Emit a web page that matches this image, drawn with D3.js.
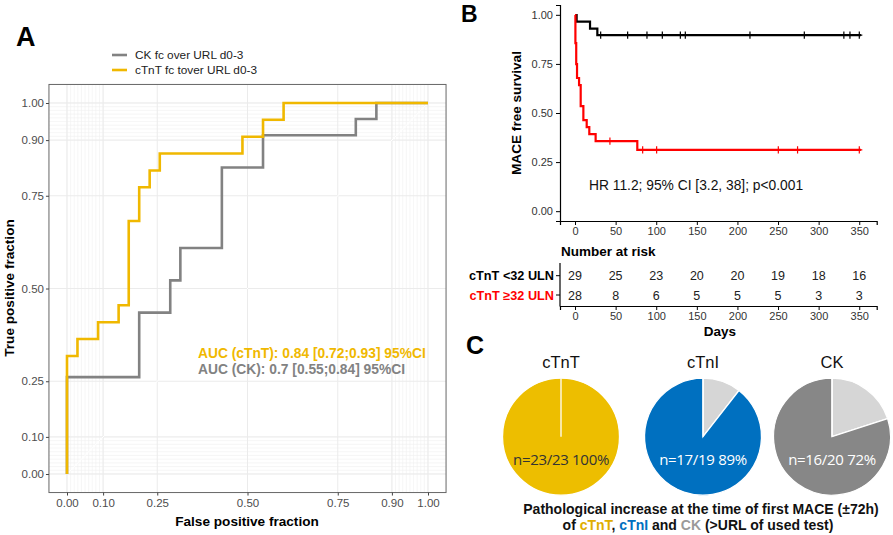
<!DOCTYPE html>
<html lang="en">
<head>
<meta charset="utf-8">
<title>D3</title>
<script src="https://d3js.org/d3.v7.min.js"></script>
<style>
  body { margin: 0; background: #fff; }
  svg text { font-family: "Liberation Sans", Arial, Helvetica, sans-serif; }
</style>
</head>
<body>
<div id="viz"></div>
<script>
// ---------- panel A : ROC curves ----------
const rocNames = ["CK fc over URL d0-3", "cTnT fc tover URL d0-3"];
// each point: the fpr reached after a rise to the given tpr (vertical step first)
const ckFpr  = [0, 0.2, 0.286, 0.314, 0.429, 0.543, 0.8, 0.857, 1];
const ckTpr  = [0, 0.261, 0.435, 0.522, 0.609, 0.826, 0.913, 0.957, 1];
const tntFpr = [0, 0.029, 0.086, 0.143, 0.171, 0.2, 0.229, 0.257, 0.486, 0.543, 0.6, 1];
const tntTpr = [0, 0.318, 0.364, 0.409, 0.455, 0.682, 0.773, 0.818, 0.864, 0.909, 0.955, 1];
const rocBreaks = [0, 0.1, 0.25, 0.5, 0.75, 0.9, 1];
const aucText = ["AUC (cTnT): 0.84 [0.72;0.93] 95%CI", "AUC (CK): 0.7 [0.55;0.84] 95%CI"];

// ---------- panel B : Kaplan-Meier ----------
const kmNames = ["cTnT <32 ULN", "cTnT \u226532 ULN"];
const lowTime  = [0, 2, 18.5, 27.5, 352];
const lowSurv  = [1, 0.966, 0.931, 0.897, 0.897];
const lowCens  = [31.6, 64.8, 88.6, 107.5, 129.7, 135.8, 215.4, 282.3, 331, 338.5, 350];
const highTime = [0, 0.5, 1.5, 2.5, 5, 7, 10.3, 14.4, 17.6, 25.4, 76.7, 352];
const highSurv = [1, 0.857, 0.75, 0.679, 0.643, 0.536, 0.464, 0.429, 0.393, 0.357, 0.313, 0.313];
const highCens = [43, 83.3, 100.5, 250.3, 274, 350];
const riskTimes = [0, 50, 100, 150, 200, 250, 300, 350];
const riskLow   = [29, 25, 23, 20, 20, 19, 18, 16];
const riskHigh  = [28, 8, 6, 5, 5, 5, 3, 3];
const survTicks = [0, 0.25, 0.5, 0.75, 1];
const hrText = "HR 11.2; 95% CI [3.2, 38]; p<0.001";

// ---------- panel C : pies ----------
const pieNames  = ["cTnT", "cTnI", "CK"];
const piePath   = [23, 17, 16];
const pieNormal = [0, 2, 4];
const pieLabels = ["n=23/23 100%", "n=17/19 89%", "n=16/20 72%"];

const yellowLine = "#F0B800", greyLine = "#828282";
const pieColors = ["#EDBE00", "#0070C0", "#878787"];
const pieRest = "#D6D6D6";

const svg = d3.select("#viz").append("svg")
    .attr("width", 893).attr("height", 535);

// ================= A =================
const xA = d3.scaleLinear().domain([0, 1]).range([67, 428]);
const yA = d3.scaleLinear().domain([0, 1]).range([474, 103]);
const minor = d3.range(0, 0.105, 0.01).concat(d3.range(0.9, 1.005, 0.01));

const gA = svg.append("g");
gA.append("text").attr("x", 16).attr("y", 46)
    .attr("font-size", 27).attr("font-weight", "bold").text("A");

// grid
gA.selectAll(".vmin").data(minor).join("line")
    .attr("x1", d => xA(d)).attr("x2", d => xA(d))
    .attr("y1", yA(1.05)).attr("y2", yA(-0.05))
    .attr("stroke", "#f0f0f0").attr("stroke-width", 0.6);
gA.selectAll(".hmin").data(minor).join("line")
    .attr("y1", d => yA(d)).attr("y2", d => yA(d))
    .attr("x1", xA(-0.05)).attr("x2", xA(1.05))
    .attr("stroke", "#f0f0f0").attr("stroke-width", 0.6);
gA.selectAll(".vmaj").data(rocBreaks).join("line")
    .attr("x1", d => xA(d)).attr("x2", d => xA(d))
    .attr("y1", yA(1.05)).attr("y2", yA(-0.05))
    .attr("stroke", "#ebebeb").attr("stroke-width", 1);
gA.selectAll(".hmaj").data(rocBreaks).join("line")
    .attr("y1", d => yA(d)).attr("y2", d => yA(d))
    .attr("x1", xA(-0.05)).attr("x2", xA(1.05))
    .attr("stroke", "#ebebeb").attr("stroke-width", 1);

// chance diagonal
gA.append("line")
    .attr("x1", xA(0)).attr("y1", yA(0)).attr("x2", xA(1)).attr("y2", yA(1))
    .attr("stroke", "#fff").attr("stroke-width", 1);

// curves
const rocLine = d3.line().curve(d3.curveStepBefore)
    .x(d => xA(d[0])).y(d => yA(d[1]));
gA.append("path").datum(d3.zip(ckFpr, ckTpr))
    .attr("fill", "none").attr("stroke", greyLine).attr("stroke-width", 2.6)
    .attr("d", rocLine);
gA.append("path").datum(d3.zip(tntFpr, tntTpr))
    .attr("fill", "none").attr("stroke", yellowLine).attr("stroke-width", 2.6)
    .attr("d", rocLine);

// panel border
gA.append("rect")
    .attr("x", xA(-0.05)).attr("y", yA(1.05))
    .attr("width", xA(1.05) - xA(-0.05)).attr("height", yA(-0.05) - yA(1.05))
    .attr("fill", "none").attr("stroke", "#666").attr("stroke-width", 1);

// axes
const axAL = gA.append("g").attr("transform", `translate(${xA(-0.05)},0)`)
    .call(d3.axisLeft(yA).tickValues(rocBreaks).tickFormat(d3.format(".2f")).tickSize(3).tickPadding(2));
const axAB = gA.append("g").attr("transform", `translate(0,${yA(-0.05)})`)
    .call(d3.axisBottom(xA).tickValues(rocBreaks).tickFormat(d3.format(".2f")).tickSize(3).tickPadding(3));
[axAL, axAB].forEach(a => {
    a.select(".domain").remove();
    a.selectAll("line").attr("stroke", "#444");
    a.selectAll("text").attr("fill", "#4d4d4d").attr("font-size", 11.5);
});

gA.append("text").attr("x", 247).attr("y", 526).attr("text-anchor", "middle")
    .attr("font-size", 13.6).attr("font-weight", "bold").text("False positive fraction");
gA.append("text").attr("transform", "translate(14,288) rotate(-90)")
    .attr("text-anchor", "middle")
    .attr("font-size", 13.6).attr("font-weight", "bold").text("True positive fraction");

// legend
const legColors = [greyLine, yellowLine];
rocNames.forEach((n, i) => {
    gA.append("line").attr("x1", 112).attr("x2", 127)
        .attr("y1", 55 + i * 15).attr("y2", 55 + i * 15)
        .attr("stroke", legColors[i]).attr("stroke-width", 2.6);
    gA.append("text").attr("x", 135).attr("y", 59 + i * 15)
        .attr("font-size", 11.8).attr("fill", "#222").text(n);
});

// AUC notes
[[yellowLine, 0], [greyLine, 1]].forEach(([c, i]) => {
    gA.append("text").attr("x", 198).attr("y", 357.5 + i * 16.5)
        .attr("font-size", 13.8).attr("font-weight", "bold").attr("fill", c)
        .text(aucText[i]);
});

// ================= B =================
const xB = d3.scaleLinear().domain([0, 350]).range([575, 859.3]);
const yB = d3.scaleLinear().domain([0, 1]).range([211.3, 15]);
const gB = svg.append("g");
gB.append("text").attr("x", 461).attr("y", 22)
    .attr("font-size", 23).attr("font-weight", "bold").text("B");

const axBL = gB.append("g").attr("transform", `translate(560,0)`)
    .call(d3.axisLeft(yB.copy().domain([-0.05, 1.05]).range([221, 5]))
        .tickValues(survTicks).tickFormat(d3.format(".2f")).tickSize(4).tickPadding(3));
const axBB = gB.append("g").attr("transform", `translate(0,221)`)
    .call(d3.axisBottom(xB.copy().domain([-18.5, 371.5]).range([560, 876.7]))
        .tickValues(riskTimes).tickSize(4).tickPadding(2));
[axBL, axBB].forEach(a => {
    a.select(".domain").attr("stroke", "#000").attr("stroke-width", 1.2);
    a.selectAll(".tick line").attr("stroke", "#000");
    a.selectAll("text").attr("fill", "#333").attr("font-size", 11);
});

const kmLine = d3.line().curve(d3.curveStepAfter)
    .x(d => xB(d[0])).y(d => yB(d[1]));
function survAt(times, surv, t) {
    let s = surv[0];
    times.forEach((tt, i) => { if (tt <= t) s = surv[i]; });
    return s;
}
const kmSets = [
    {time: lowTime, surv: lowSurv, cens: lowCens, color: "#000"},
    {time: highTime, surv: highSurv, cens: highCens, color: "#ff0000"}
];
kmSets.forEach(k => {
    gB.append("path").datum(d3.zip(k.time, k.surv))
        .attr("fill", "none").attr("stroke", k.color).attr("stroke-width", 2.2)
        .attr("d", kmLine);
    gB.selectAll(null).data(k.cens).join("path")
        .attr("d", d => {
            const x = xB(d), y = yB(survAt(k.time, k.surv, d));
            return `M${x},${y - 3.6}V${y + 3.6}M${x - 3},${y}H${x + 3}`;
        })
        .attr("stroke", k.color).attr("stroke-width", 1.2);
});

gB.append("text").attr("x", 589).attr("y", 189.5)
    .attr("font-size", 13.8).attr("fill", "#111").text(hrText);
gB.append("text").attr("transform", "translate(521,113) rotate(-90)")
    .attr("text-anchor", "middle")
    .attr("font-size", 13.6).attr("font-weight", "bold").text("MACE free survival");

// risk table
gB.append("text").attr("x", 561).attr("y", 256)
    .attr("font-size", 13.5).attr("font-weight", "bold").text("Number at risk");
const rowY = [275.7, 295];
const rowCol = ["#000", "#ff0000"];
[riskLow, riskHigh].forEach((r, i) => {
    gB.selectAll(null).data(r).join("text")
        .attr("x", (d, j) => xB(riskTimes[j])).attr("y", rowY[i] + 4.5)
        .attr("text-anchor", "middle").attr("font-size", 12.5).attr("fill", "#222")
        .text(d => d);
    gB.append("text").attr("x", 554).attr("y", rowY[i] + 4.5)
        .attr("text-anchor", "end").attr("font-size", 12.7).attr("font-weight", "bold")
        .attr("fill", rowCol[i]).text(kmNames[i]);
    gB.append("line").attr("x1", 556).attr("x2", 560).attr("y1", rowY[i]).attr("y2", rowY[i])
        .attr("stroke", "#000");
});
gB.append("line").attr("x1", 560).attr("x2", 560).attr("y1", 263).attr("y2", 306.5)
    .attr("stroke", "#000").attr("stroke-width", 1.2);
const axRisk = gB.append("g").attr("transform", `translate(0,306)`)
    .call(d3.axisBottom(xB.copy().domain([-18.5, 371.5]).range([560, 876.7]))
        .tickValues(riskTimes).tickSize(4).tickPadding(2));
axRisk.select(".domain").attr("stroke", "#000").attr("stroke-width", 1.2);
axRisk.selectAll("text").attr("fill", "#333").attr("font-size", 11);
gB.append("text").attr("x", 720).attr("y", 336).attr("text-anchor", "middle")
    .attr("font-size", 13.5).attr("font-weight", "bold").text("Days");

// ================= C =================
const gC = svg.append("g");
gC.append("text").attr("x", 466).attr("y", 354)
    .attr("font-size", 25).attr("font-weight", "bold").text("C");

const pieCx = [561, 703, 832];
const pieCy = 436.7, pieR = 58.5;
const pie = d3.pie().sort(null);
const arc = d3.arc().innerRadius(0).outerRadius(pieR);
pieNames.forEach((n, i) => {
    const g = gC.append("g").attr("transform", `translate(${pieCx[i]},${pieCy})`);
    const slices = pie([pieNormal[i], piePath[i]]);
    g.selectAll("path").data(slices).join("path")
        .attr("d", arc)
        .attr("fill", (d, j) => j === 0 ? pieRest : pieColors[i])
        .attr("stroke", "#fff").attr("stroke-width", 1.3);
    // slice border at the start angle (visible even for an empty slice)
    const a0 = slices[0].startAngle;
    g.append("line").attr("x1", 0).attr("y1", 0)
        .attr("x2", pieR * Math.sin(a0)).attr("y2", -pieR * Math.cos(a0))
        .attr("stroke", "#fff").attr("stroke-width", 1.3);
    g.append("text").attr("y", -pieR - 10).attr("text-anchor", "middle")
        .attr("font-size", 16.5).attr("fill", "#111").text(n);
    g.append("text").attr("y", 28.5).attr("text-anchor", "middle")
        .style("font-family", "'Open Sans', sans-serif")
        .attr("font-size", 15).attr("letter-spacing", -0.3)
        .attr("fill", i === 0 ? "#333" : "#fff").text(pieLabels[i]);
});

gC.append("text").attr("x", 701).attr("y", 514).attr("text-anchor", "middle")
    .attr("font-size", 14).attr("font-weight", "bold").attr("fill", "#111")
    .text("Pathological increase at the time of first MACE (\u00b172h)");
const cap2 = gC.append("text").attr("x", 698).attr("y", 530).attr("text-anchor", "middle")
    .attr("font-size", 14).attr("font-weight", "bold").attr("fill", "#111");
cap2.append("tspan").text("of ");
cap2.append("tspan").attr("fill", "#E0AE00").text(pieNames[0]);
cap2.append("tspan").text(", ");
cap2.append("tspan").attr("fill", pieColors[1]).text(pieNames[1]);
cap2.append("tspan").text(" and ");
cap2.append("tspan").attr("fill", "#9a9a9a").text(pieNames[2]);
cap2.append("tspan").text(" (>URL of used test)");
</script>
</body>
</html>
